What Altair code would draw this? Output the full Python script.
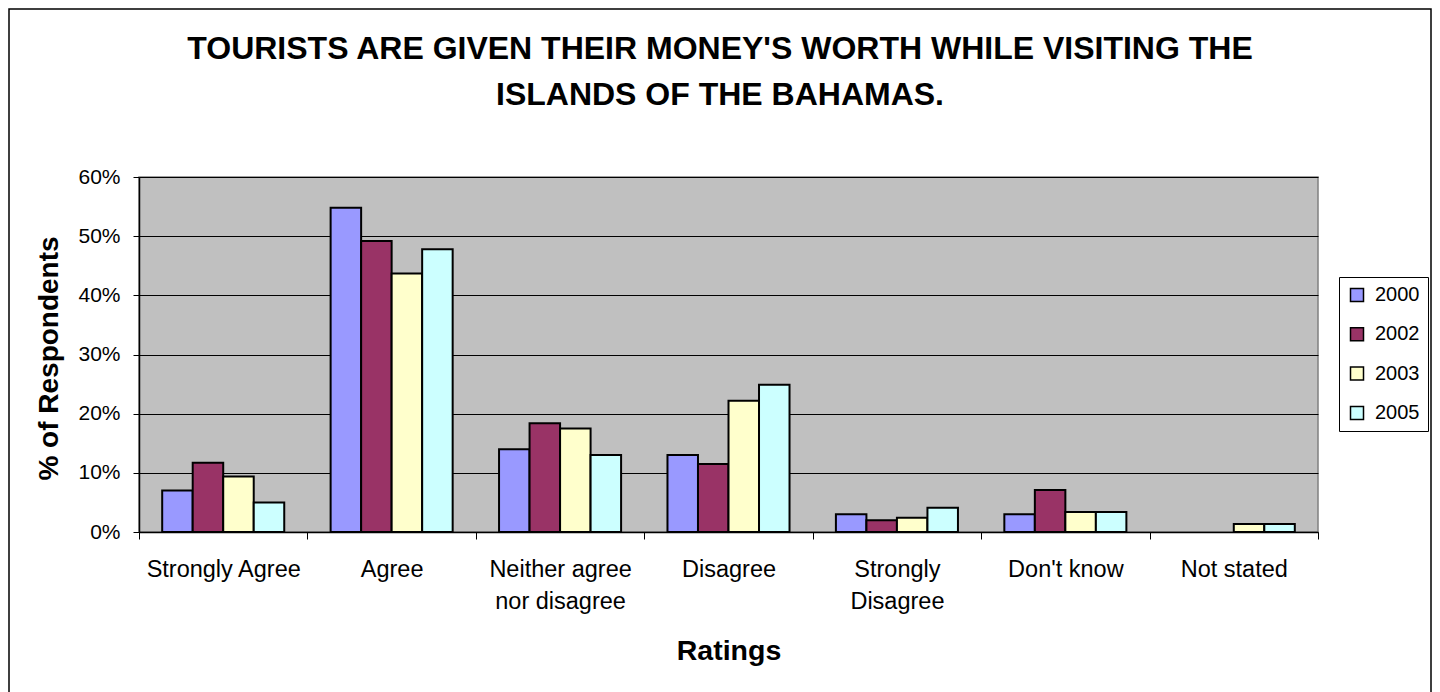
import altair as alt
import pandas as pd

categories = ["Strongly Agree", "Agree", "Neither agree nor disagree", "Disagree",
              "Strongly Disagree", "Don't know", "Not stated"]
years = ["2000", "2002", "2003", "2005"]
v2000 = [7.0, 54.8, 14.0, 13.0, 3.0, 3.0, None]
v2002 = [11.7, 49.2, 18.4, 11.5, 2.0, 7.1, None]
v2003 = [9.4, 43.7, 17.5, 22.2, 2.4, 3.4, 1.35]
v2005 = [5.0, 47.8, 13.0, 24.9, 4.1, 3.4, 1.35]
colors = ["#9999FF", "#993366", "#FFFFCC", "#CCFFFF"]
title_lines = ["TOURISTS ARE GIVEN THEIR MONEY'S WORTH WHILE VISITING THE",
               "ISLANDS OF THE BAHAMAS."]
y_ticks = [0, 10, 20, 30, 40, 50, 60]

rows = []
for yr, vals in zip(years, [v2000, v2002, v2003, v2005]):
    for c, v in zip(categories, vals):
        if v is not None:
            rows.append({"Rating": c, "Year": yr, "Pct": v})
df = pd.DataFrame(rows)

FONT = "Liberation Sans"

label_expr = ("datum.value == 'Neither agree nor disagree' ? ['Neither agree', 'nor disagree'] : "
              "datum.value == 'Strongly Disagree' ? ['Strongly', 'Disagree'] : datum.label")

bars = alt.Chart(df).mark_bar(stroke="black", strokeWidth=2).encode(
    x=alt.X("Rating:N", sort=categories,
            scale=alt.Scale(paddingInner=0, paddingOuter=0),
            axis=alt.Axis(title="Ratings", labelAngle=0, labelExpr=label_expr,
                          labelFontSize=23.5, labelLineHeight=32, labelPadding=18,
                          labelColor="black", labelFont=FONT,
                          tickBand="extent", tickSize=7, tickColor="black", tickWidth=1,
                          domainColor="black", domainWidth=1.5,
                          titleFontSize=28.5, titleFontWeight="bold", titleFont=FONT,
                          titleColor="black", titleBaseline="alphabetic", titleY=127)),
    xOffset=alt.XOffset("Year:N", sort=years,
                        scale=alt.Scale(paddingInner=0, paddingOuter=0.76)),
    y=alt.Y("Pct:Q", scale=alt.Scale(domain=[0, 60], nice=False),
            axis=alt.Axis(title="% of Respondents", values=y_ticks,
                          labelExpr="datum.value + '%'",
                          labelFontSize=21, labelPadding=13, labelColor="black", labelFont=FONT,
                          tickSize=6, tickColor="black", tickWidth=1,
                          domainColor="black", domainWidth=1.5,
                          grid=True, gridColor="black", gridWidth=1,
                          titleFontSize=28, titleFontWeight="bold", titleFont=FONT,
                          titleColor="black", titleAngle=270, titleAlign="center",
                          titleBaseline="alphabetic", titleX=-82, titleY=181)),
    color=alt.Color("Year:N", sort=years,
                    scale=alt.Scale(domain=years, range=colors),
                    legend=alt.Legend(title=None, orient="none", legendX=1200, legendY=100,
                                      padding=8, strokeColor="black",
                                      symbolType="square", symbolSize=169,
                                      symbolStrokeColor="black", symbolStrokeWidth=1.5,
                                      labelFontSize=20, labelFont=FONT, labelColor="black",
                                      labelOffset=8, rowPadding=19.3)),
)

frame = alt.Chart(alt.Data(values=[{}])).mark_rect(
    fillOpacity=0, stroke="black", strokeWidth=1.5
).encode(
    x=alt.value(-130), x2=alt.value(1292), y=alt.value(-168), y2=alt.value(540)
)

chart = alt.layer(frame, bars).properties(
    width=1179, height=355, padding=0,
    title=alt.TitleParams(text=title_lines, fontSize=32, fontWeight="bold", font=FONT,
                          color="black", anchor="middle", frame="bounds",
                          lineHeight=46, offset=-104),
    background="white",
).configure_view(
    fill="#C0C0C0", stroke="#808080", strokeWidth=1.5
)

chart.save("out.html", embed_options={"renderer": "svg", "actions": False})
